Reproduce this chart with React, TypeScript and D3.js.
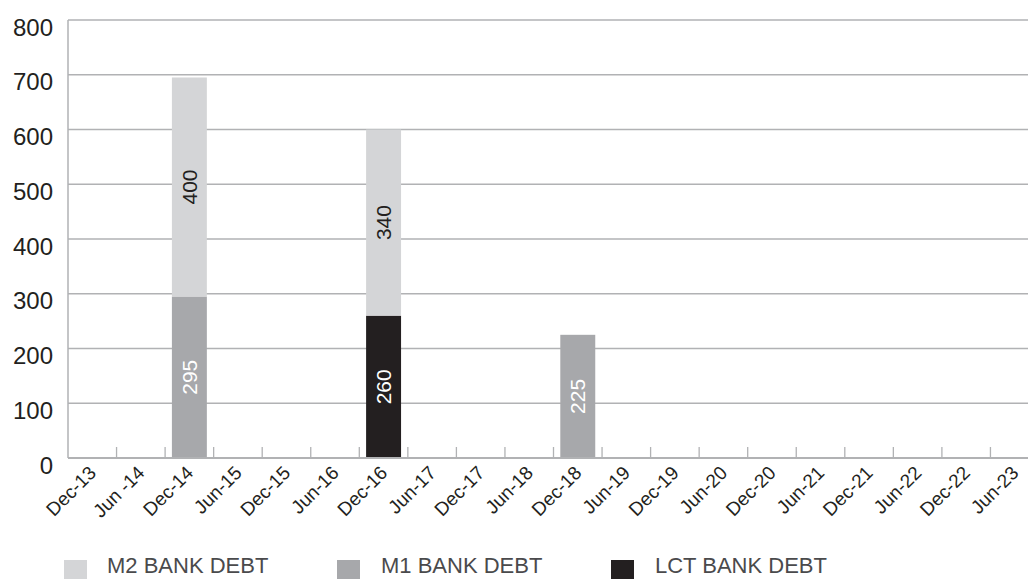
import { useEffect, useRef } from 'react'
import * as d3 from 'd3'

const CATEGORIES = [
  'Dec-13', 'Jun -14', 'Dec-14', 'Jun-15', 'Dec-15', 'Jun-16', 'Dec-16', 'Jun-17', 'Dec-17', 'Jun-18',
  'Dec-18', 'Jun-19', 'Dec-19', 'Jun-20', 'Dec-20', 'Jun-21', 'Dec-21', 'Jun-22', 'Dec-22', 'Jun-23',
]
const M1 = [0, 0, 295, 0, 0, 0, 0, 0, 0, 0, 225, 0, 0, 0, 0, 0, 0, 0, 0, 0]
const LCT = [0, 0, 0, 0, 0, 0, 260, 0, 0, 0, 0, 0, 0, 0, 0, 0, 0, 0, 0, 0]
const M2 = [0, 0, 400, 0, 0, 0, 340, 0, 0, 0, 0, 0, 0, 0, 0, 0, 0, 0, 0, 0]
const Y_TICKS = [0, 100, 200, 300, 400, 500, 600, 700, 800]

const SERIES = [
  { key: 'm1', label: 'M1 BANK DEBT', values: M1, color: '#a7a8ab', text: '#ffffff' },
  { key: 'lct', label: 'LCT BANK DEBT', values: LCT, color: '#231f20', text: '#ffffff' },
  { key: 'm2', label: 'M2 BANK DEBT', values: M2, color: '#d4d5d7', text: '#231f20' },
]
// legend order differs from stack order
const LEGEND = [
  { key: 'm2', x: 64, tx: 107 },
  { key: 'm1', x: 337, tx: 381 },
  { key: 'lct', x: 611, tx: 655 },
]

const W = 1028
const H = 579
const FONT = 'Liberation Sans, Arial, sans-serif'

export default function App() {
  const ref = useRef<SVGSVGElement>(null)

  useEffect(() => {
    const svg = d3.select(ref.current)
    svg.selectAll('*').remove()

    const left = 68
    const step = 48.55
    const x = d3.scaleBand<string>().domain(CATEGORIES)
      .range([left, left + CATEGORIES.length * step]).paddingInner(0.28).paddingOuter(0.14)
    const y = d3.scaleLinear().domain([0, 800]).range([458, 20])

    const rows = CATEGORIES.map((c, i) => {
      const r: Record<string, number | string> = { cat: c }
      SERIES.forEach((s) => { r[s.key] = s.values[i] })
      return r
    })
    const stack = d3.stack<Record<string, number | string>>().keys(SERIES.map((s) => s.key))
      .value((d, k) => d[k] as number)(rows)

    const grid = '#b1b2b4'
    // gridlines
    svg.append('g').selectAll('line').data(Y_TICKS.filter((t) => t > 0)).join('line')
      .attr('x1', left).attr('x2', x.range()[1])
      .attr('y1', (d) => y(d)).attr('y2', (d) => y(d))
      .attr('stroke', grid).attr('stroke-width', 1.3)

    // y labels
    svg.append('g').selectAll('text').data(Y_TICKS).join('text')
      .attr('x', 53).attr('y', (d) => y(d) + 15.5)
      .attr('text-anchor', 'end').attr('font-family', FONT).attr('font-size', 24)
      .attr('fill', '#231f20').text((d) => d)

    // category boundary ticks
    svg.append('g').selectAll('line').data(d3.range(1, CATEGORIES.length + 1)).join('line')
      .attr('x1', (i) => left + i * x.step()).attr('x2', (i) => left + i * x.step())
      .attr('y1', y(0)).attr('y2', y(0) - 11)
      .attr('stroke', grid).attr('stroke-width', 1.3)

    // bars
    stack.forEach((layer, li) => {
      const s = SERIES[li]
      const g = svg.append('g')
      const segs = layer.filter((d) => d[1] - d[0] > 0)
      g.selectAll('rect').data(segs).join('rect')
        .attr('x', (d) => x(d.data.cat as string)!)
        .attr('width', x.bandwidth())
        .attr('y', (d) => y(d[1]))
        .attr('height', (d) => y(d[0]) - y(d[1]))
        .attr('fill', s.color)
      g.selectAll('text').data(segs).join('text')
        .attr('transform', (d) => {
          const cx = x(d.data.cat as string)! + x.bandwidth() / 2
          const cy = y((d[0] + d[1]) / 2)
          return `translate(${cx + 7.5},${cy}) rotate(-90)`
        })
        .attr('text-anchor', 'middle').attr('font-family', FONT).attr('font-size', 21)
        .attr('fill', s.text).text((d) => d[1] - d[0])
    })

    // axes lines
    svg.append('line').attr('x1', left).attr('x2', left).attr('y1', y(800)).attr('y2', y(0))
      .attr('stroke', grid).attr('stroke-width', 1.5)
    svg.append('line').attr('x1', left).attr('x2', x.range()[1]).attr('y1', y(0)).attr('y2', y(0))
      .attr('stroke', grid).attr('stroke-width', 1.8)

    // x labels
    svg.append('g').selectAll('text').data(CATEGORIES).join('text')
      .attr('transform', (d) => `translate(${x(d)! + x.bandwidth() / 2 + 5},${y(0) + 16}) rotate(-45)`)
      .attr('text-anchor', 'end').attr('font-family', FONT).attr('font-size', 19)
      .attr('fill', '#231f20').text((d) => d)

    // legend
    const lg = svg.append('g')
    LEGEND.forEach((l) => {
      const s = SERIES.find((q) => q.key === l.key)!
      lg.append('rect').attr('x', l.x).attr('y', 560).attr('width', 23).attr('height', 19).attr('fill', s.color)
      lg.append('text').attr('x', l.tx).attr('y', 573).attr('font-family', FONT).attr('font-size', 22)
        .attr('fill', '#4a4a4c').text(s.label)
    })
  }, [])

  return (
    <div style={{ position: 'fixed', left: 0, top: 0, width: W, height: H, overflow: 'hidden', background: '#fff' }}>
      <svg ref={ref} width={W} height={H} style={{ display: 'block' }} />
    </div>
  )
}
